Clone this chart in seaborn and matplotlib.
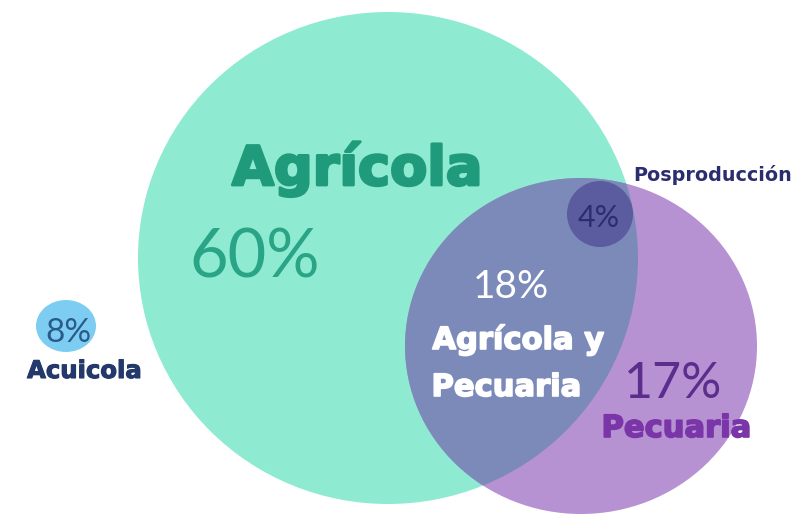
import matplotlib
matplotlib.use("Agg")
import matplotlib.pyplot as plt
import matplotlib.patheffects as pe
from matplotlib.patches import Ellipse
import seaborn as sns

sns.set_theme(style="white")
plt.rcParams['font.family'] = ['DejaVu Sans']

# data
categories = ["Agrícola", "Agrícola y\nPecuaria", "Pecuaria", "Posproducción", "Acuicola"]
percentages = [60, 18, 17, 4, 8]

fig = plt.figure(figsize=(7.97, 5.15), dpi=100)
ax = fig.add_axes([0, 0, 1, 1])
ax.set_xlim(0, 797)
ax.set_ylim(515, 0)
ax.set_aspect("equal")
ax.axis("off")

green = "#8eead0"
purple = "#b792d3"
overlap = "#7c8aba"

big = Ellipse((388, 258), 500, 492, color=green, lw=0, zorder=1)
ax.add_patch(big)
pec = Ellipse((581, 346), 352, 336, color=purple, lw=0, zorder=2)
ax.add_patch(pec)
ov = Ellipse((581, 346), 352, 336, color=overlap, lw=0, zorder=3)
ax.add_patch(ov)
ov.set_clip_path(big)
pos = Ellipse((600, 214), 66, 66, color="#5b5c9f", lw=0, zorder=4)
ax.add_patch(pos)
acu = Ellipse((66, 326), 60, 52, color="#7dcdf3", lw=0, zorder=4)
ax.add_patch(acu)

heavy = ['DejaVu Sans']
light = ['Lato', 'DejaVu Sans']


def heavy_text(x, y, s, size, color, stroke=1.2):
    ax.text(x, y, s, fontsize=size, weight="bold", color=color, ha="center",
            va="baseline", family=heavy, zorder=5,
            path_effects=[pe.withStroke(linewidth=stroke, foreground=color)])


def light_text(x, y, s, size, color):
    ax.text(x, y, s, fontsize=size, weight="normal", color=color, ha="center",
            va="baseline", family=light, zorder=5)


heavy_text(357, 185, categories[0], 39, "#1f9a7a", stroke=2.0)
light_text(255, 277, f"{percentages[0]}%", 48, "#2aa487")

light_text(511, 298, f"{percentages[1]}%", 28, "white")
line1, line2 = categories[1].split("\n")
heavy_text(518, 349, line1, 22, "white")
heavy_text(506, 396, line2, 22, "white")

light_text(673, 398, f"{percentages[2]}%", 36, "#5b2d8d")
heavy_text(676, 437, categories[2], 22, "#7a36a8")

ax.text(713, 181, categories[3], fontsize=13.8, weight="bold", color="#2b2d6e",
        ha="center", va="baseline", family=heavy, zorder=5)
light_text(599, 227, f"{percentages[3]}%", 22, "#2b2d6e")

light_text(68, 342, f"{percentages[4]}%", 24, "#2a5a8a")
heavy_text(84, 378, categories[4], 17.5, "#24396b", stroke=0.8)

fig.savefig("out.png", dpi=100)
